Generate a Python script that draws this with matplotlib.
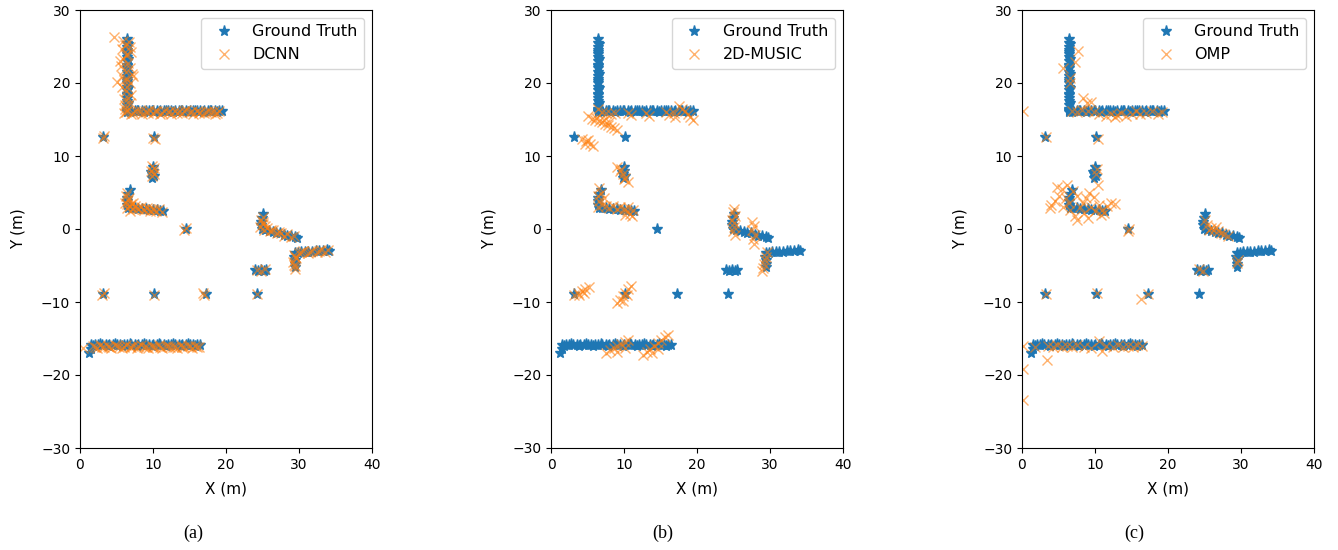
import numpy as np
from matplotlib import pyplot as plt

# ground truth target positions (x, y) in metres
gt_top_vertical = [(6.5, 16.0), (6.5, 16.5), (6.5, 17.0), (6.5, 17.5), (6.5, 18.0), (6.5, 18.5),
                   (6.5, 19.0), (6.5, 19.5), (6.5, 20.0), (6.5, 20.5), (6.5, 21.0), (6.5, 21.5),
                   (6.5, 22.0), (6.5, 22.5), (6.5, 23.0), (6.5, 23.5), (6.5, 24.0), (6.5, 24.5),
                   (6.5, 25.0), (6.5, 25.5), (6.5, 26.0), (6.4, 16.3), (6.6, 17.3), (6.4, 18.3),
                   (6.6, 19.3), (6.4, 20.3), (6.6, 21.3), (6.4, 22.3), (6.6, 23.3), (6.4, 24.3),
                   (6.6, 25.3)]
gt_top_horizontal = [(6.5, 16.1), (7.0, 16.1), (7.5, 16.1), (8.0, 16.1), (8.5, 16.1), (9.0, 16.1),
                     (9.5, 16.1), (10.0, 16.1), (10.5, 16.1), (11.0, 16.1), (11.5, 16.1), (12.0, 16.1),
                     (12.5, 16.1), (13.0, 16.1), (13.5, 16.1), (14.0, 16.1), (14.5, 16.1), (15.0, 16.1),
                     (15.5, 16.1), (16.0, 16.1), (16.5, 16.1), (17.0, 16.1), (17.5, 16.1), (18.0, 16.1),
                     (18.5, 16.1), (19.0, 16.1), (19.5, 16.1), (6.8, 16.0), (7.8, 16.2), (8.8, 16.0),
                     (9.8, 16.2), (10.8, 16.0), (11.8, 16.2), (12.8, 16.0), (13.8, 16.2), (14.8, 16.0),
                     (15.8, 16.2), (16.8, 16.0), (17.8, 16.2), (18.8, 16.0)]
gt_points = [(3.2, 12.6), (10.1, 12.6), (14.5, 0.0),
             (3.2, -8.9), (10.2, -8.9), (17.2, -8.9), (24.2, -8.9)]
gt_blob = [(9.8, 7.0), (9.9, 7.5), (10.0, 8.0), (10.0, 8.5), (9.7, 7.8), (10.2, 7.3)]
gt_mid_l = [(6.8, 5.3), (6.6, 4.8), (6.5, 4.3), (6.4, 3.8), (6.5, 3.3), (6.6, 2.9),
            (7.0, 2.9), (7.5, 2.85), (8.0, 2.8), (8.5, 2.75), (9.0, 2.7), (9.5, 2.65),
            (10.0, 2.6), (10.5, 2.55), (11.0, 2.5), (11.4, 2.4)]
gt_right_upper = [(25.1, 2.0), (24.9, 1.5), (24.8, 1.0), (24.8, 0.5), (24.9, 0.0),
                  (25.4, -0.2), (25.9, -0.3), (26.4, -0.4), (26.9, -0.5), (27.4, -0.6),
                  (27.9, -0.8), (28.4, -0.9), (28.9, -1.0), (29.4, -1.1), (29.7, -1.3)]
gt_right_small = [(24.0, -5.6), (24.4, -5.7), (24.8, -5.6), (25.2, -5.7), (25.5, -5.6)]
gt_right_lower = [(29.4, -3.3), (29.3, -3.8), (29.4, -4.3), (29.4, -4.8), (29.5, -5.2),
                  (29.8, -3.3), (30.3, -3.2), (30.8, -3.2), (31.3, -3.1), (31.8, -3.1),
                  (32.3, -3.0), (32.8, -3.0), (33.3, -3.0), (33.8, -2.9), (34.1, -3.0)]
gt_bottom = [(1.5, -15.9), (2.0, -15.9), (2.5, -15.9), (3.0, -15.9), (3.5, -15.9), (4.0, -15.9),
             (4.5, -15.9), (5.0, -15.9), (5.5, -15.9), (6.0, -15.9), (6.5, -15.9), (7.0, -15.9),
             (7.5, -15.9), (8.0, -15.9), (8.5, -15.9), (9.0, -15.9), (9.5, -15.9), (10.0, -15.9),
             (10.5, -15.9), (11.0, -15.9), (11.5, -15.9), (12.0, -15.9), (12.5, -15.9), (13.0, -15.9),
             (13.5, -15.9), (14.0, -15.9), (14.5, -15.9), (15.0, -15.9), (15.5, -15.9), (16.0, -15.9),
             (16.5, -15.9), (1.8, -16.0), (2.8, -15.8), (3.8, -16.0), (4.8, -15.8), (5.8, -16.0),
             (6.8, -15.8), (7.8, -16.0), (8.8, -15.8), (9.8, -16.0), (10.8, -15.8), (11.8, -16.0),
             (12.8, -15.8), (13.8, -16.0), (14.8, -15.8), (15.8, -16.0),
             (1.5, -16.5), (1.3, -17.0)]

# DCNN estimates
dcnn_est = [(6.2, 16.5), (6.8, 17.2), (6.0, 17.8), (7.0, 18.3), (6.3, 18.9), (5.8, 19.5), (6.9, 20.0),
            (5.1, 20.2), (6.4, 20.6), (7.1, 21.2), (6.0, 21.8), (5.6, 22.3), (6.6, 22.7), (7.2, 21.0),
            (5.9, 23.3), (6.3, 23.8), (7.0, 24.3), (5.8, 24.6), (6.1, 25.2), (6.7, 25.6), (4.6, 26.3),
            (6.4, 19.4), (5.5, 23.0), (6.9, 24.9), (5.7, 21.0), (6.2, 17.0), (6.6, 18.0),
            (6.0, 20.4), (6.5, 24.0), (5.9, 25.8), (6.8, 22.0),
            (6.0, 15.9), (6.5, 16.3), (7.0, 15.8), (7.5, 16.1), (8.0, 16.2), (8.5, 15.8), (9.0, 16.0),
            (9.5, 16.3), (10.0, 15.9), (10.5, 16.1), (11.0, 15.8), (11.5, 16.2), (12.0, 16.0),
            (12.5, 15.8), (13.0, 16.2), (13.5, 16.0), (14.0, 15.9), (14.5, 16.3), (15.0, 16.0),
            (15.5, 15.8), (16.0, 16.2), (16.5, 16.0), (17.0, 15.9), (17.5, 16.2), (18.0, 16.0),
            (18.5, 15.8), (19.0, 16.1), (6.3, 16.0), (7.3, 15.9), (8.3, 16.1), (9.3, 15.9),
            (10.3, 16.2), (11.3, 15.9), (12.3, 16.1), (13.3, 15.9), (14.3, 16.1), (15.3, 16.2),
            (16.3, 15.9), (17.3, 16.0), (18.3, 16.2), (18.8, 15.9),
            (3.1, 12.4), (3.3, 12.7), (10.0, 12.5), (10.3, 12.3),
            (9.8, 7.3), (10.0, 7.8), (10.1, 8.3), (9.9, 8.6), (10.2, 7.5), (9.7, 8.0),
            (6.5, 5.0), (6.3, 4.5), (6.6, 4.0), (6.2, 3.6), (6.8, 3.2), (6.4, 2.9), (7.0, 3.4),
            (7.2, 2.8), (7.6, 3.1), (8.0, 2.7), (8.4, 3.0), (8.8, 2.6), (9.2, 2.9), (9.6, 2.5),
            (10.0, 2.8), (10.4, 2.4), (10.8, 2.7), (11.2, 2.3), (7.3, 3.6), (6.9, 2.5),
            (6.7, 4.3), (6.5, 3.4), (7.8, 2.9), (8.6, 2.8), (9.4, 2.7), (10.2, 2.6),
            (14.5, 0.1), (14.3, -0.1),
            (25.1, 1.7), (24.8, 1.2), (25.0, 0.7), (24.7, 0.3), (25.2, -0.1), (25.6, 0.2),
            (26.0, -0.3), (26.5, -0.2), (27.0, -0.6), (27.5, -0.5), (28.0, -0.9), (28.4, -0.7),
            (28.9, -1.1), (29.3, -1.0), (25.0, 1.0), (25.3, 0.4), (26.2, -0.1), (27.2, -0.4),
            (24.2, -5.6), (24.8, -5.8), (25.3, -5.5),
            (29.3, -3.5), (29.6, -4.0), (29.2, -4.5), (29.5, -5.0), (29.4, -5.5), (30.0, -3.3),
            (30.6, -3.0), (31.2, -3.3), (31.8, -3.0), (32.4, -3.2), (33.0, -2.9), (33.6, -3.1),
            (34.0, -2.9), (29.5, -3.9), (29.3, -4.9), (30.3, -3.1), (31.5, -3.2), (32.7, -3.0),
            (3.3, -8.8), (10.1, -9.0), (17.0, -9.0), (24.3, -8.9), (3.0, -9.1), (16.8, -8.8),
            (0.4, -16.3), (1.8, -16.0), (2.3, -16.3), (2.8, -15.9), (3.3, -16.2), (3.8, -16.0),
            (4.3, -16.3), (4.8, -15.9), (5.3, -16.1), (5.8, -16.3), (6.3, -15.9), (6.8, -16.2),
            (7.3, -16.0), (7.8, -16.3), (8.3, -15.9), (8.8, -16.1), (9.3, -16.3), (9.8, -16.0),
            (10.3, -16.2), (10.8, -15.9), (11.3, -16.3), (11.8, -16.0), (12.3, -16.2), (12.8, -16.1),
            (13.3, -16.3), (13.8, -15.9), (14.3, -16.2), (14.8, -16.0), (15.3, -16.3), (15.8, -16.0),
            (16.3, -16.1), (2.0, -16.1), (3.0, -16.1), (4.0, -16.2), (5.0, -16.0), (6.0, -16.1),
            (7.0, -16.2), (8.0, -16.0), (9.0, -16.2), (10.0, -16.1), (11.0, -16.1), (12.0, -16.0),
            (13.0, -16.2), (14.0, -16.1), (15.0, -16.0), (16.0, -16.2)]

# 2D-MUSIC estimates
music_est = [(5.0, 15.5), (5.6, 15.1), (6.2, 15.2), (6.6, 14.8), (7.0, 14.6), (7.4, 14.4),
             (7.8, 14.2), (8.2, 14.0), (8.6, 13.8), (9.0, 13.6), (6.0, 14.9), (7.2, 14.9), (8.0, 14.6),
             (6.4, 16.4), (7.0, 16.0), (7.6, 15.9), (8.2, 15.8), (8.8, 15.9),
             (10.6, 15.9), (11.0, 15.6), (13.0, 15.9), (13.4, 15.5), (15.8, 16.0), (16.2, 15.6),
             (16.8, 15.9), (17.5, 16.9), (17.9, 16.5), (18.3, 16.1), (18.7, 15.7), (19.1, 15.3),
             (19.4, 15.0), (17.0, 15.4),
             (4.3, 12.3), (4.8, 12.0), (5.3, 11.7), (5.8, 11.4), (4.6, 11.6), (5.1, 12.2),
             (9.0, 8.5), (9.4, 8.0), (9.8, 7.5), (10.2, 7.0), (10.6, 6.5), (9.6, 8.2), (10.0, 6.8),
             (6.6, 5.6), (6.9, 5.0), (6.4, 4.5), (7.2, 4.2), (6.6, 3.8), (7.0, 3.3), (6.5, 3.0),
             (7.6, 3.2), (8.0, 2.9), (8.5, 3.1), (9.0, 2.8), (9.5, 3.0), (10.0, 2.7), (10.4, 2.4),
             (10.8, 2.1), (11.1, 1.8), (10.6, 3.0), (11.2, 2.6), (10.2, 1.9),
             (25.0, 2.8), (24.9, 2.3), (25.2, 1.8), (24.8, 1.3), (25.1, 0.8), (25.0, 0.3),
             (24.9, -0.3), (25.2, -0.8),
             (27.6, 1.0), (27.8, 0.4), (27.6, -0.2), (27.9, -0.8), (27.7, -1.4), (27.8, -2.0),
             (29.6, -3.2), (29.5, -3.8), (29.3, -4.3), (29.2, -4.8), (29.0, -5.3), (28.9, -5.8),
             (3.2, -9.1), (3.7, -8.8), (4.2, -8.5), (4.7, -8.2), (5.2, -8.0), (3.9, -9.0), (4.5, -8.7),
             (9.0, -10.2), (9.4, -9.7), (9.8, -9.2), (10.2, -8.7), (10.6, -8.2), (11.0, -7.8),
             (9.8, -9.9), (10.4, -9.1),
             (7.6, -17.0), (8.1, -16.6), (8.6, -16.3), (9.1, -16.0), (9.6, -15.7), (10.1, -15.5),
             (10.6, -15.2), (9.0, -16.8), (10.2, -16.3),
             (12.6, -17.2), (13.1, -16.8), (13.6, -16.4), (14.1, -16.0), (14.6, -15.6), (15.1, -15.2),
             (15.6, -14.8), (16.0, -14.5), (13.8, -17.0), (14.6, -16.4)]

# OMP estimates
omp_est = [(0.1, 16.1), (7.7, 24.4), (7.3, 22.9), (5.6, 22.0), (6.6, 20.7), (6.6, 20.0),
           (8.4, 17.9), (8.9, 17.2), (9.4, 17.4),
           (6.8, 16.2), (7.6, 16.0), (8.2, 16.3), (9.0, 16.1), (9.8, 16.0), (10.5, 15.7),
           (11.5, 15.5), (12.2, 15.8), (13.0, 15.6), (13.6, 15.9), (14.3, 15.5), (15.0, 15.8),
           (15.6, 16.1), (16.2, 15.7), (17.0, 15.9), (17.8, 16.2), (18.6, 15.8), (19.2, 16.0),
           (12.8, 15.3),
           (3.3, 12.6), (10.4, 12.3), (10.1, 7.6), (10.3, 8.2),
           (4.0, 3.3), (4.5, 3.8), (5.0, 4.5), (4.8, 5.8), (5.5, 5.5), (6.2, 6.0), (6.0, 4.2),
           (7.0, 5.2), (7.5, 4.5), (8.0, 3.0), (8.5, 2.2), (9.0, 1.5), (7.2, 1.8), (7.6, 1.2),
           (8.4, 3.5), (9.5, 3.0), (10.0, 2.5), (10.5, 3.3), (11.0, 2.6), (11.6, 3.2), (12.2, 3.6),
           (12.8, 3.4), (9.2, 5.0), (9.8, 4.4), (10.4, 6.0), (5.6, 3.0), (6.6, 2.6), (3.8, 2.9),
           (8.8, 4.2), (11.2, 2.2), (10.8, 1.9), (6.4, 3.6),
           (14.6, 0.0), (14.5, -0.3),
           (25.0, 1.2), (25.4, 0.6), (25.9, 0.2), (26.3, -0.1), (26.8, -0.3), (27.2, -0.5),
           (27.7, -0.7), (28.2, -0.9), (25.6, -0.2), (26.6, 0.3),
           (29.4, -4.6), (29.6, -4.2), (24.3, -5.5), (24.8, -5.8),
           (3.3, -8.9), (10.3, -8.8), (17.2, -8.9), (16.3, -9.6),
           (1.8, -16.1), (3.5, -16.0), (4.2, -16.2), (4.8, -15.9), (5.5, -16.1), (6.2, -16.0),
           (6.8, -16.2), (7.5, -15.9), (8.5, -16.1), (9.5, -16.3), (10.5, -15.3), (11.0, -16.7),
           (11.5, -16.0), (12.5, -16.1), (13.2, -15.9), (13.8, -16.2), (14.5, -16.0), (15.2, -16.1),
           (15.8, -15.9), (16.4, -16.0),
           (0.1, -16.0), (3.4, -17.9), (0.1, -19.2), (0.1, -23.4)]

methods = ['DCNN', '2D-MUSIC', 'OMP']
captions = ['(a)', '(b)', '(c)']

ground_truth = np.array(gt_top_vertical + gt_top_horizontal + gt_points + gt_blob + gt_mid_l
                        + gt_right_upper + gt_right_small + gt_right_lower + gt_bottom)
estimates = [np.array(dcnn_est), np.array(music_est), np.array(omp_est)]


def draw_panel(ax, est, label):
    ax.plot(ground_truth[:, 0], ground_truth[:, 1], '*', color='tab:blue',
            markersize=8, linestyle='None', label='Ground Truth')
    ax.plot(est[:, 0], est[:, 1], 'x', color='tab:orange', alpha=0.6,
            markersize=7, linestyle='None', label=label)
    ax.set_xlim(0, 40)
    ax.set_ylim(-30, 30)
    ax.set_aspect('equal')
    ax.set_xlabel('X (m)', fontsize=11, labelpad=7)
    ax.set_ylabel('Y (m)', fontsize=11, labelpad=11)
    ax.legend(loc='upper right', fontsize=11.5)


fig = plt.figure(figsize=(13.38, 5.5), dpi=100)
lefts = [80 / 1338, 551 / 1338, 1022 / 1338]
cap_x = [193 / 1338, 663 / 1338, 1134 / 1338]
for i in range(3):
    ax = fig.add_axes([lefts[i], 102 / 550, 292 / 1338, 438 / 550])
    draw_panel(ax, estimates[i], methods[i])
    fig.text(cap_x[i], 17 / 550, captions[i], ha='center', va='center',
             family='Liberation Serif', fontsize=13)

plt.savefig('out.png', dpi=100)
